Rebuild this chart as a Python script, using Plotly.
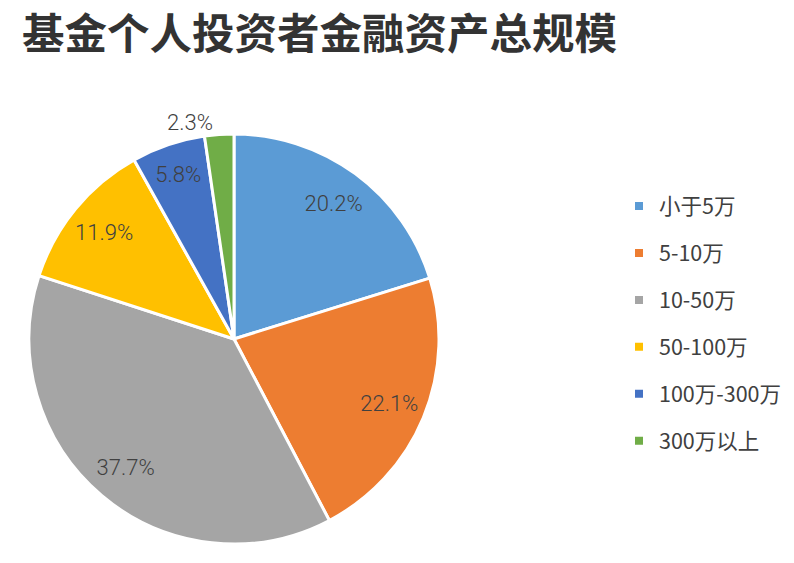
import plotly.graph_objects as go

categories = ["小于5万", "5-10万", "10-50万", "50-100万", "100万-300万", "300万以上"]
shares = [20.2, 22.1, 37.7, 11.9, 5.8, 2.3]
colors = ["#5B9BD5", "#ED7D31", "#A5A5A5", "#FFC000", "#4472C4", "#70AD47"]
title_text = "基金个人投资者金融资产总规模"

W, H = 794, 563
OFF = 8  # page body margin
cx, cy, r = 234, 339, 205


def px(x):
    return (x - OFF) / W


def py(y):
    return 1 - (y - OFF) / H


domain = dict(x=[px(cx - r), px(cx + r)], y=[py(cy + r), py(cy - r)])
label_font = dict(family="Roboto, Liberation Sans, sans-serif", size=22, color="#404040", weight=300)

fig = go.Figure()
# base pie (slices + the one outside label)
fig.add_trace(go.Pie(
    labels=categories,
    values=shares,
    sort=False,
    direction="clockwise",
    rotation=0,
    marker=dict(colors=colors, line=dict(color="white", width=3)),
    texttemplate="%{value:.1f}%",
    textposition=["none"] * 5 + ["outside"],
    textfont=label_font,
    outsidetextfont=label_font,
    showlegend=False,
    hoverinfo="label+percent",
    domain=domain,
))
# transparent ring overlay so the inside labels sit near the rim
fig.add_trace(go.Pie(
    labels=categories,
    values=shares,
    sort=False,
    direction="clockwise",
    rotation=0,
    hole=0.64,
    marker=dict(colors=["rgba(0,0,0,0)"] * len(shares), line=dict(width=0)),
    texttemplate="%{value:.1f}%",
    textposition=["inside"] * 5 + ["none"],
    insidetextorientation="auto",
    textfont=label_font,
    insidetextfont=label_font,
    showlegend=False,
    hoverinfo="skip",
    domain=domain,
))

for i, (cat, col) in enumerate(zip(categories, colors)):
    fig.add_trace(go.Scatter(
        x=[None], y=[None], mode="markers", name=cat,
        marker=dict(symbol="square", size=8, color=col),
        legendgroup=f"g{i}", showlegend=True, hoverinfo="skip",
    ))

fig.update_layout(
    width=W, height=H,
    margin=dict(l=0, r=0, t=0, b=0),
    paper_bgcolor="white", plot_bgcolor="white",
    xaxis=dict(visible=False), yaxis=dict(visible=False),
    title=dict(text=title_text, x=(22 - OFF) / W, xanchor="left", xref="container",
               y=1 - (34 - OFF) / H, yanchor="middle",
               font=dict(family="Noto Sans CJK SC", size=42.5, color="#333333", weight="bold")),
    legend=dict(x=px(619), xanchor="left", y=py(323.5), yanchor="middle",
                font=dict(family="Noto Sans CJK SC", size=21.5, color="#404040"),
                tracegroupgap=16, itemsizing="trace", bgcolor="rgba(0,0,0,0)"),
)

fig.write_html("out.html")
